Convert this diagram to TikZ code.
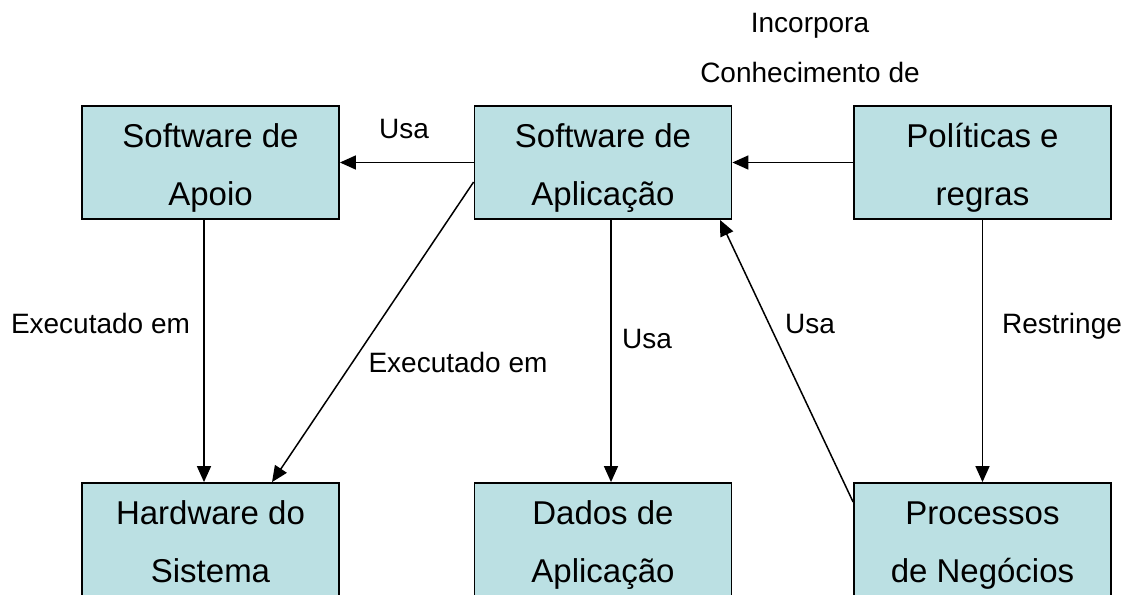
\documentclass[tikz,border=0pt]{standalone}
\usepackage{fontspec}
\setmainfont{Liberation Sans}
\usetikzlibrary{arrows.meta}
\definecolor{boxfill}{HTML}{BBE0E3}

\begin{document}
\begin{tikzpicture}[x=1pt,y=-1pt,box/.style={draw,fill=boxfill,line width=1.8pt,rectangle,inner sep=0pt,minimum width=257pt,minimum height=113pt,align=center,font=\fontsize{33}{58}\selectfont,text height=99pt,text depth=14pt},rel/.style={draw=none,inner sep=0pt,anchor=base,align=center,font=\fontsize{28}{50}\selectfont},conn/.style={line width=1.5pt,-{Triangle[length=16pt,width=14pt]}}]
\useasboundingbox (0,0) rectangle (1129,594);
\foreach \n/\x/\y/\txt in {apoio/210.5/162.5/{Software de\\Apoio},aplic/603/162.5/{Software de\\Aplicação},politicas/982.5/162.5/{Políticas e\\regras},hardware/210.5/539.5/{Hardware do\\Sistema},dados/603/539.5/{Dados de\\Aplicação},processos/982.5/539.5/{Processos\\de Negócios}} {
   \node[box] (\n) at (\x,\y) {\txt};
}

\draw[conn] (aplic.west) -- (apoio.east);
\draw[conn] (politicas.west) -- (aplic.east);
\draw[conn] ([xshift=-6.5pt]apoio.south) -- ([xshift=-6.5pt]hardware.north);
\draw[conn] ([yshift=-19.5pt]aplic.west) -- ([xshift=61.5pt]hardware.north);
\draw[conn] ([xshift=8pt]aplic.south) -- ([xshift=8pt]dados.north);
\draw[conn] (politicas.south) -- (processos.north);
\draw[conn] ([yshift=37.5pt]processos.west) -- ([xshift=117pt]aplic.south);
% labels
\node[rel] (usaApoio) at (404,138) {Usa};
\node[rel] (incorpora) at (810,82) {Incorpora\\Conhecimento de};
\node[rel] (execApoio) at (100.5,333) {Executado em};
\node[rel] (execHw) at (458,372) {Executado em};
\node[rel] (usaDados) at (647,348) {Usa};
\node[rel] (usaProc) at (810,333) {Usa};
\node[rel] (restringe) at (1062,333) {Restringe};
\end{tikzpicture}
\end{document}
